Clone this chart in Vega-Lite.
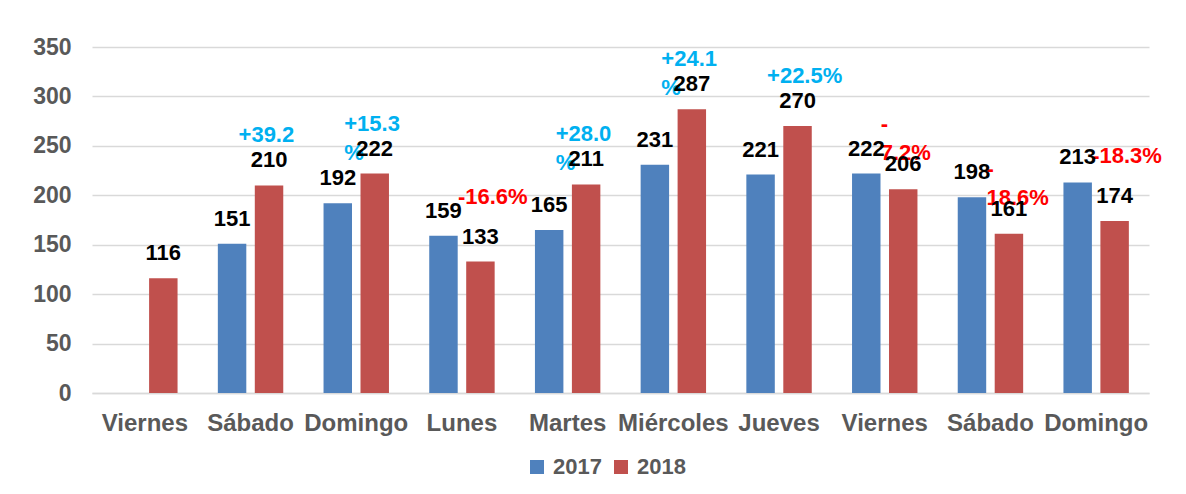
{
  "$schema": "https://vega.github.io/schema/vega-lite/v6.json",
  "width": 1057,
  "height": 346,
  "autosize": {"type": "none"},
  "padding": {"left": 92, "top": 47, "right": 37, "bottom": 101},
  "background": "white",
  "config": {
    "font": "Liberation Sans",
    "view": {"stroke": null}
  },
  "datasets": {
    "barras": [
      {"grupo": 1, "dia": "Viernes", "serie": "2018", "valor": 116},
      {"grupo": 2, "dia": "Sábado", "serie": "2017", "valor": 151},
      {"grupo": 2, "dia": "Sábado", "serie": "2018", "valor": 210},
      {"grupo": 3, "dia": "Domingo", "serie": "2017", "valor": 192},
      {"grupo": 3, "dia": "Domingo", "serie": "2018", "valor": 222},
      {"grupo": 4, "dia": "Lunes", "serie": "2017", "valor": 159},
      {"grupo": 4, "dia": "Lunes", "serie": "2018", "valor": 133},
      {"grupo": 5, "dia": "Martes", "serie": "2017", "valor": 165},
      {"grupo": 5, "dia": "Martes", "serie": "2018", "valor": 211},
      {"grupo": 6, "dia": "Miércoles", "serie": "2017", "valor": 231},
      {"grupo": 6, "dia": "Miércoles", "serie": "2018", "valor": 287},
      {"grupo": 7, "dia": "Jueves", "serie": "2017", "valor": 221},
      {"grupo": 7, "dia": "Jueves", "serie": "2018", "valor": 270},
      {"grupo": 8, "dia": "Viernes", "serie": "2017", "valor": 222},
      {"grupo": 8, "dia": "Viernes", "serie": "2018", "valor": 206},
      {"grupo": 9, "dia": "Sábado", "serie": "2017", "valor": 198},
      {"grupo": 9, "dia": "Sábado", "serie": "2018", "valor": 161},
      {"grupo": 10, "dia": "Domingo", "serie": "2017", "valor": 213},
      {"grupo": 10, "dia": "Domingo", "serie": "2018", "valor": 174}
    ],
    "cambios": [
      {"grupo": 2, "pct": "+39.2"},
      {"grupo": 3, "pct": "+15.3\n%"},
      {"grupo": 4, "pct": "-16.6%"},
      {"grupo": 5, "pct": "+28.0\n%"},
      {"grupo": 6, "pct": "+24.1\n%"},
      {"grupo": 7, "pct": "+22.5%"},
      {"grupo": 8, "pct": "-\n7.2%"},
      {"grupo": 9, "pct": "-\n18.6%"},
      {"grupo": 10, "pct": "-18.3%"}
    ]
  },
  "data": {"name": "barras"},
  "encoding": {
    "x": {
      "field": "grupo",
      "type": "ordinal",
      "scale": {"paddingInner": 0, "paddingOuter": 0},
      "axis": {
        "title": null,
        "labelExpr": "['Viernes','Sábado','Domingo','Lunes','Martes','Miércoles','Jueves','Viernes','Sábado','Domingo'][datum.value-1]",
        "labelAngle": 0,
        "ticks": false,
        "domain": true,
        "domainColor": "#d9d9d9",
        "domainWidth": 1.5,
        "labelFont": "Liberation Sans",
        "labelFontWeight": "bold",
        "labelFontSize": 24,
        "labelColor": "#595959",
        "labelPadding": 18,
        "grid": false
      }
    },
    "y": {
      "field": "valor",
      "type": "quantitative",
      "scale": {"domain": [0, 350], "nice": false},
      "axis": {
        "title": null,
        "values": [0, 50, 100, 150, 200, 250, 300, 350],
        "domain": false,
        "ticks": false,
        "grid": true,
        "gridColor": "#d9d9d9",
        "gridWidth": 1.5,
        "labelFont": "Liberation Sans",
        "labelFontWeight": "bold",
        "labelFontSize": 23,
        "labelColor": "#595959",
        "labelPadding": 21
      }
    }
  },
  "layer": [
    {
      "mark": {"type": "bar"},
      "encoding": {
        "xOffset": {
          "field": "serie",
          "type": "nominal",
          "scale": {"domain": ["2017", "2018"], "paddingInner": 0.23, "paddingOuter": 0.545}
        },
        "color": {
          "field": "serie",
          "type": "nominal",
          "scale": {"domain": ["2017", "2018"], "range": ["#4F81BD", "#C0504D"]},
          "legend": {
            "title": null,
            "orient": "none",
            "legendX": 434,
            "legendY": 409,
            "direction": "horizontal",
            "symbolType": "square",
            "symbolSize": 196,
            "symbolStrokeWidth": 0,
            "labelFont": "Liberation Sans",
            "labelFontSize": 22,
            "labelFontWeight": "bold",
            "labelColor": "#595959",
            "labelOffset": 5,
            "columnPadding": 8
          }
        }
      }
    },
    {
      "transform": [
        {"filter": "datum.serie == '2018'"},
        {"lookup": "grupo", "from": {"data": {"name": "cambios"}, "key": "grupo", "fields": ["pct"]}},
        {"filter": "datum.pct != null && indexof(datum.pct, '+') == 0"}
      ],
      "mark": {
        "type": "text",
        "align": "left",
        "baseline": "top",
        "dx": -12,
        "dy": -60,
        "lineBreak": "\n",
        "lineHeight": 29,
        "fontSize": 22,
        "fontWeight": "bold",
        "color": "#00B0F0"
      },
      "encoding": {"text": {"field": "pct"}}
    },
    {
      "transform": [
        {"filter": "datum.serie == '2018'"},
        {"lookup": "grupo", "from": {"data": {"name": "cambios"}, "key": "grupo", "fields": ["pct"]}},
        {"filter": "datum.pct != null && indexof(datum.pct, '-') == 0"}
      ],
      "mark": {
        "type": "text",
        "align": "left",
        "baseline": "top",
        "dx": -4,
        "dy": -75,
        "lineBreak": "\n",
        "lineHeight": 29,
        "fontSize": 22,
        "fontWeight": "bold",
        "color": "#FF0000"
      },
      "encoding": {"text": {"field": "pct"}}
    },
    {
      "mark": {
        "type": "text",
        "baseline": "middle",
        "dy": -25,
        "fontSize": 22,
        "fontWeight": "bold",
        "color": "#000000"
      },
      "encoding": {
        "xOffset": {"field": "serie", "type": "nominal"},
        "text": {"field": "valor", "type": "quantitative"}
      }
    }
  ]
}
